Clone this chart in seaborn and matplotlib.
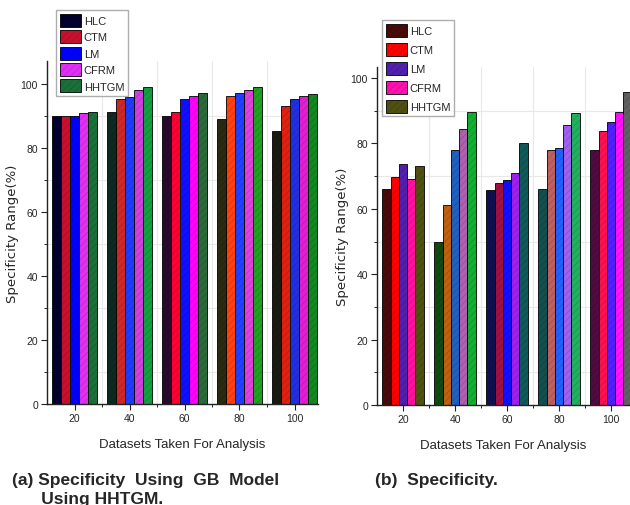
import numpy as np
import pandas as pd
import seaborn as sns
import matplotlib.pyplot as plt
from matplotlib.patches import Patch
from matplotlib.ticker import MultipleLocator, FixedLocator

# data
datasets = ['20', '40', '60', '80', '100']
methods = ['HLC', 'CTM', 'LM', 'CFRM', 'HHTGM']

spec_gb = {
    'HLC':   [90.0, 91.2, 90.0, 89.1, 85.3],
    'CTM':   [90.0, 95.3, 91.2, 96.2, 93.0],
    'LM':    [90.0, 95.9, 95.4, 97.2, 95.3],
    'CFRM':  [90.8, 98.0, 96.2, 98.1, 96.2],
    'HHTGM': [91.2, 99.2, 97.1, 99.0, 97.0],
}
spec_b = {
    'HLC':   [66.1, 49.8, 65.9, 66.2, 77.9],
    'CTM':   [69.7, 61.2, 67.9, 78.0, 83.7],
    'LM':    [73.7, 77.9, 68.7, 78.7, 86.7],
    'CFRM':  [69.1, 84.4, 70.9, 85.8, 89.6],
    'HHTGM': [73.1, 89.5, 80.0, 89.3, 95.6],
}

# legend colours and per-group bar colours (origin style varying colours)
legend_a = ['#000030', '#c8102e', '#0000ff', '#e030f8', '#1a7038']
colors_a = [
    ['#000030', '#c8102e', '#0000ff', '#e030f0', '#1a7038'],
    ['#0d2a20', '#d02828', '#1e3cff', '#d040e0', '#10a040'],
    ['#2a0a2a', '#ff0033', '#1010ff', '#ff00ff', '#2a6a3a'],
    ['#2a2a10', '#ff4010', '#2040ff', '#e040e0', '#20a020'],
    ['#1a1a10', '#e02010', '#2030e0', '#e020d0', '#108a20'],
]
legend_b = ['#4a0a0a', '#ff0000', '#5020b0', '#ff10b0', '#505010']
colors_b = [
    ['#4a0a0a', '#ff0000', '#5020b0', '#ff10a0', '#505010'],
    ['#104a10', '#c06010', '#2060c0', '#b060b0', '#10b030'],
    ['#101050', '#a01040', '#1010ff', '#a020f0', '#105a5a'],
    ['#105050', '#c06060', '#2060ff', '#a060f0', '#20b060'],
    ['#500a40', '#ff1050', '#5020ff', '#ff10ff', '#606060'],
]

sns.set_theme(style='white')
plt.rcParams['font.family'] = ['Liberation Sans Narrow', 'Liberation Sans', 'DejaVu Sans']
plt.rcParams['hatch.linewidth'] = 0.4

fig = plt.figure(figsize=(6.3, 5.06), dpi=100)
W, H = 630, 506
HATCH_COL = (0, 0, 0, 0.22)


def make_panel(rect, data, legend_cols, bar_cols, width, xmax, ymax, leg_anchor, leg_space):
    ax = fig.add_axes(rect)
    df = pd.DataFrame(data, index=datasets).reset_index().melt(
        id_vars='index', var_name='method', value_name='value')
    df = df.rename(columns={'index': 'dataset'})
    sns.barplot(data=df, x='dataset', y='value', hue='method', order=datasets,
                hue_order=methods, palette=legend_cols, width=width,
                edgecolor='black', linewidth=0.6, ax=ax, legend=False)
    # each group gets its own colours, like the origin original
    for h, cont in enumerate(ax.containers):
        for g, bar in enumerate(cont):
            bar.set_facecolor(bar_cols[g][h])
            bar.set_hatch('/////')
            bar._hatch_color = HATCH_COL
    ax.set_xlim(-0.5, xmax)
    ax.set_ylim(0, ymax)
    ax.yaxis.set_major_locator(MultipleLocator(20))
    ax.yaxis.set_minor_locator(MultipleLocator(10))
    ax.xaxis.set_minor_locator(FixedLocator(np.arange(0.5, 5, 1)))
    ax.grid(which='minor', color='#e8e8e8', linewidth=0.8)
    ax.grid(which='major', visible=False)
    ax.set_axisbelow(True)
    for s in ['top', 'right']:
        ax.spines[s].set_visible(False)
    for s in ['left', 'bottom']:
        ax.spines[s].set_color('#222222')
        ax.spines[s].set_linewidth(1.0)
    ax.tick_params(which='major', direction='out', length=4, width=0.8,
                   labelsize=7.5, color='#222222', bottom=True, left=True, pad=2.5)
    ax.tick_params(which='minor', direction='out', length=2.5, width=0.7,
                   color='#222222', bottom=True, left=True)
    ax.set_xlabel('Datasets Taken For Analysis', fontsize=9.5, labelpad=11)
    ax.set_ylabel('Specificity Range(%)', fontsize=9.5, labelpad=1,
                  family=['DejaVu Sans'])
    handles = []
    for c in legend_cols:
        p = Patch(facecolor=c, edgecolor='black', linewidth=0.6, hatch='/////')
        p._hatch_color = HATCH_COL
        handles.append(p)
    fig.legend(handles, methods, loc='upper left', bbox_to_anchor=leg_anchor,
               frameon=True, fancybox=False, edgecolor='#999999', fontsize=8,
               handlelength=1.9, handleheight=1.4, handletextpad=0.25,
               labelspacing=leg_space, borderpad=0.35, borderaxespad=0)
    return ax


# panel (a)
make_panel([47 / W, 1 - 405 / H, 271 / W, (405 - 62) / H], spec_gb, legend_a, colors_a,
           0.82, -0.5 + 271 / 55, 107.2, (56 / W, 1 - 11 / H), 0.32)
# panel (b)
make_panel([377 / W, 1 - 406 / H, 253 / W, (406 - 68) / H], spec_b, legend_b, colors_b,
           0.8, -0.5 + 253 / 52, 103.4, (382 / W, 1 - 21 / H), 0.55)

cap = dict(fontsize=12.5, fontweight='bold', family=['Liberation Sans', 'DejaVu Sans'],
           va='top', ha='left')
fig.text(12 / W, 1 - 473 / H, '(a) Specificity  Using  GB  Model\n      Using HHTGM.',
         linespacing=1.3, **cap)
fig.text(375 / W, 1 - 473 / H, '(b)  Specificity.', **cap)

fig.savefig('out.png', dpi=100)
